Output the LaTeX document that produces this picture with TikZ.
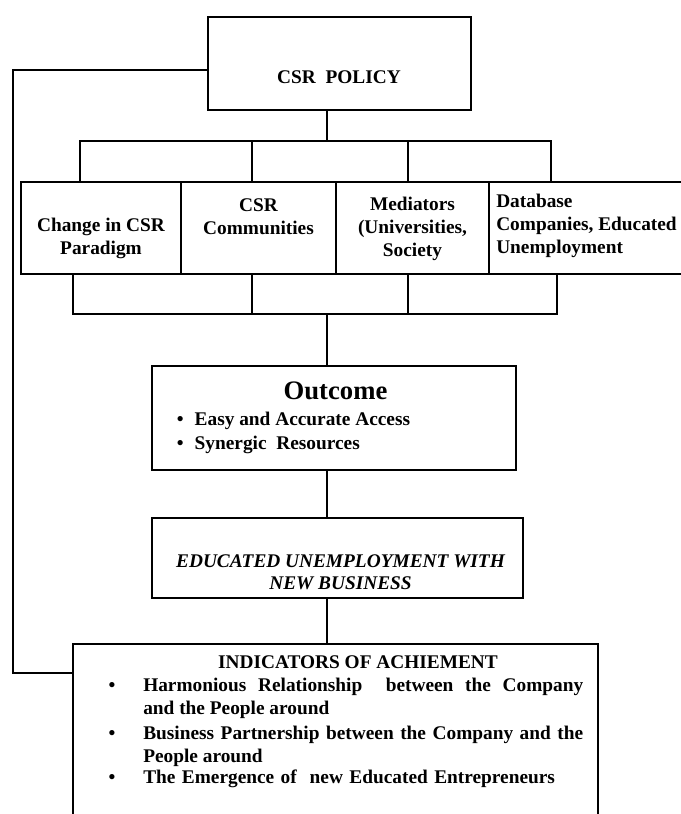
\documentclass[tikz,border=0pt]{standalone}
\usepackage{fontspec}
\setmainfont{Liberation Serif}
\usetikzlibrary{calc}

\tikzset{
  box/.style={draw, line width=0.8pt, inner sep=0pt},
  link/.style={line width=0.8pt},
  txt/.style={font=\bfseries\fontsize{14.5}{17.25}\selectfont, inner sep=0pt, align=center},
  item/.style={font=\bfseries\fontsize{14.5}{17.25}\selectfont, inner sep=0pt},
}

\begin{document}
\begin{tikzpicture}[x=0.75pt,y=-0.75pt]
\useasboundingbox (0,0) rectangle (681,814);

% policy box
\node[box, minimum width=197.25pt, minimum height=69.75pt] (policy) at (339.5,63.5) {};
\node[item, anchor=base] (policytxt) at (339,83) {CSR\ \ POLICY};

% four boxes
\node[box, minimum width=120pt, minimum height=69pt] (para) at (101,228) {};
\node[box, minimum width=116.25pt, minimum height=69pt] (comm) at (258.5,228) {};
\node[box, minimum width=114.75pt, minimum height=69pt] (medi) at (412.5,228) {};
\node[box, minimum width=158.25pt, minimum height=69pt] (data) at (594.5,228) {};
\node[txt] (paratxt) at (101,238.5) {Change in CSR\\Paradigm};
\node[txt] (commtxt) at (258.5,216.5) {CSR\\Communities};
\node[txt] (meditxt) at (412.5,229) {Mediators\\(Universities,\\Society};
\node[txt, align=left, anchor=west] (datatxt) at (496,225.5) {Database\\Companies, Educated\\Unemployment};

% outcome
\node[box, minimum width=273pt, minimum height=78pt] (outcome) at (334,418) {};
\node[item, font=\bfseries\fontsize{20}{24}\selectfont, anchor=base] (outtitle) at (335.5,399) {Outcome};
\node[item, anchor=base west] (out1) at (176.5,425) {\makebox[13.5pt][l]{\textbullet}Easy and Accurate Access};
\node[item, anchor=base west] (out2) at (176.5,449) {\makebox[13.5pt][l]{\textbullet}Synergic\ \ Resources};

% new business
\node[box, minimum width=278.25pt, minimum height=60pt] (newbiz) at (337.5,558) {};
\node[txt, font=\bfseries\itshape\fontsize{14.5}{16.5}\selectfont] (newbiztxt) at (340.5,572) {EDUCATED UNEMPLOYMENT WITH\\NEW BUSINESS};

% indicators
\node[box, minimum width=393.75pt, minimum height=139.5pt] (indic) at (335.5,737) {};
\node[item, anchor=base] (indictitle) at (358,668) {INDICATORS OF ACHIEMENT};
\foreach \y/\n in {691/1, 739/2, 783/3}
  \node[item, anchor=base] (dot\n) at (112,\y) {\textbullet};
\node[item, anchor=base west, text width=330pt, align=justify] (ind1) at (143,691) {Harmonious Relationship\ \ between the Company\linebreak and the People around};
\node[item, anchor=base west, text width=330pt, align=justify] (ind2) at (143,739) {Business Partnership between the Company and the\linebreak People around};
\node[item, anchor=base west, text width=330pt, align=left] (ind3) at (143,783) {The Emergence of\ \ new Educated Entrepreneurs};

% connectors
\coordinate (trunk) at (327,0);
\coordinate (topbar) at (0,141);
\coordinate (botbar) at (0,314);
\coordinate (t1) at (80,141);
\coordinate (t2) at (252,141);
\coordinate (t3) at (408,141);
\coordinate (t4) at (551,141);
\coordinate (u1) at (73,314);
\coordinate (u2) at (252,314);
\coordinate (u3) at (408,314);
\coordinate (u4) at (557,314);
\coordinate (loop1) at (13,70);
\coordinate (loop2) at (13,673);

\draw[link] (policy.south -| trunk) -- (trunk |- topbar);
\draw[link] (t1 |- para.north) -- (t1) -- (t4) -- (t4 |- data.north);
\draw[link] (t2) -- (t2 |- comm.north);
\draw[link] (t3) -- (t3 |- medi.north);
\draw[link] (u1 |- para.south) -- (u1) -- (u4) -- (u4 |- data.south);
\draw[link] (u2 |- comm.south) -- (u2);
\draw[link] (u3 |- medi.south) -- (u3);
\draw[link] (trunk |- botbar) -- (trunk |- outcome.north);
\draw[link] (outcome.south -| trunk) -- (newbiz.north -| trunk);
\draw[link] (newbiz.south -| trunk) -- (indic.north -| trunk);
\draw[link] (policy.west |- loop1) -- (loop1) -- (loop2) -- (indic.west |- loop2);
\end{tikzpicture}
\end{document}
